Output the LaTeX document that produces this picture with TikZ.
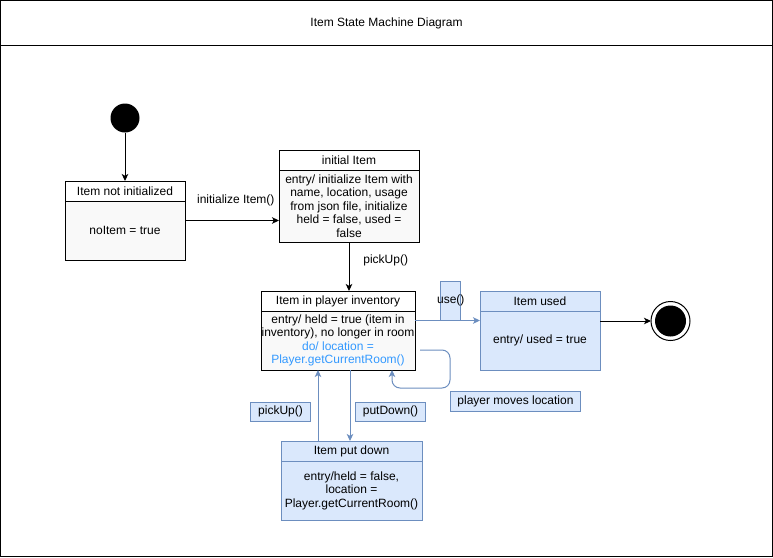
\documentclass[tikz,border=0pt]{standalone}
\usepackage{fontspec}
\setmainfont{Liberation Sans}
\usetikzlibrary{positioning,shapes.multipart,arrows.meta}
\definecolor{bluefill}{HTML}{DAE8FC}
\definecolor{blueline}{HTML}{6C8EBF}
\definecolor{dotext}{HTML}{3399FF}
\definecolor{bodygray}{HTML}{F9F9F9}

\begin{document}
\begin{tikzpicture}[x=1pt, y=-1pt,
    font=\fontsize{12}{13.5}\selectfont,
    statebox/.style={rectangle split, rectangle split parts=2, draw, line width=1pt, inner sep=0pt, outer sep=0pt, rectangle split part fill={white,bodygray}},
    bluestate/.style={statebox, draw=blueline, rectangle split part fill={bluefill,bluefill}},
    startdot/.style={circle, fill=black, minimum size=29pt, inner sep=0pt, outer sep=0pt},
    enddot/.style={circle, draw, fill=white, line width=1pt, minimum size=39pt, inner sep=0pt, outer sep=0pt, path picture={\fill[black] (path picture bounding box.center) circle (15.5pt);}},
    trans/.style={line width=1pt, -{Stealth[length=7pt,width=6.5pt,inset=1.8pt]}},
    bluetrans/.style={trans, draw=blueline},
    lblbox/.style={draw=blueline, fill=bluefill, line width=1pt, inner sep=0pt},
  ]
    \useasboundingbox (0,0) rectangle (773,557);
    \draw[line width=1pt] (0.5,0.5) rectangle (772.5,556.5);
    \draw[line width=1pt] (0,45) -- (773,45);
    \node (title) at (386.5,23) {Item State Machine Diagram};

    \node[startdot] (start) at (125,118) {};
    \node[statebox, below=48.5pt of start] (notinit)
      {\parbox[c][19pt][c]{120pt}{\centering Item not initialized}\nodepart{two}\parbox[c][58pt][c]{120pt}{\centering noItem = true}};
    \node[statebox, right=94pt of notinit, yshift=24.5pt] (init)
      {\parbox[c][19pt][c]{140pt}{\centering initial Item}\nodepart{two}\parbox[c][71pt][c]{140pt}{\centering entry/ initialize Item with\\name, location, usage\\from json file, initialize\\held = false, used =\\false}};
    \node[statebox, below=49pt of init, xshift=-11pt] (inv)
      {\parbox[c][19pt][c]{154pt}{\centering Item in player inventory}\nodepart{two}\parbox[c][58pt][c]{154pt}{\centering entry/ held = true (item in\\inventory), no longer in room\\\textcolor{dotext}{do/ location =}\\\textcolor{dotext}{Player.getCurrentRoom()}}};
    \node[bluestate, right=65pt of inv] (used)
      {\parbox[c][19pt][c]{120pt}{\centering Item used}\nodepart{two}\parbox[c][58pt][c]{120pt}{\centering entry/ used = true}};
    \node[enddot, right=51pt of used, yshift=9.5pt] (final) {};
    \node[bluestate, below=71pt of inv, xshift=13.5pt] (putdown)
      {\parbox[c][19pt][c]{141pt}{\centering Item put down}\nodepart{two}\parbox[c][58pt][c]{141pt}{\centering entry/held = false,\\location =\\Player.getCurrentRoom()}};

    % transitions
    \draw[trans] (start) -- (notinit);
    \draw[trans] (notinit.east) -- (notinit.east -| init.west)
      node[pos=0.54, yshift=20pt] {initialize Item()};
    \draw[trans] (init.south) -- (init.south |- inv.north)
      node[midway, anchor=west, xshift=10.5pt, yshift=6.5pt] {pickUp()};
    \draw[bluetrans] ([yshift=10pt]inv.east) -- ([yshift=10pt]used.west)
      node[lblbox, pos=0.55, above, minimum width=20pt, minimum height=39pt] {\makebox[20pt]{use()}};
    \draw[trans] (used.east |- final.west) -- (final.west);
    \draw[bluetrans, rounded corners=8pt] ([xshift=5pt, yshift=-19.5pt]inv.east) -- ++(30,0) -- ++(0,38) coordinate (loopcorner) -- ++(-58,0) -- ([xshift=54pt]inv.south);
    \node[lblbox, anchor=north west, minimum width=130pt, minimum height=20pt] (moves) at ([yshift=-3pt]loopcorner) {player moves location};
    \draw[bluetrans] ([xshift=12pt]inv.south) -- ([xshift=12pt]inv.south |- putdown.north)
      node[lblbox, midway, right=5pt, yshift=-6pt, minimum width=70pt, minimum height=19pt] {putDown()};
    \draw[bluetrans] ([xshift=-20pt]inv.south |- putdown.north) -- ([xshift=-20pt]inv.south)
      node[lblbox, midway, left=7pt, yshift=-6pt, minimum width=60pt, minimum height=19pt] {pickUp()};
\end{tikzpicture}
\end{document}
